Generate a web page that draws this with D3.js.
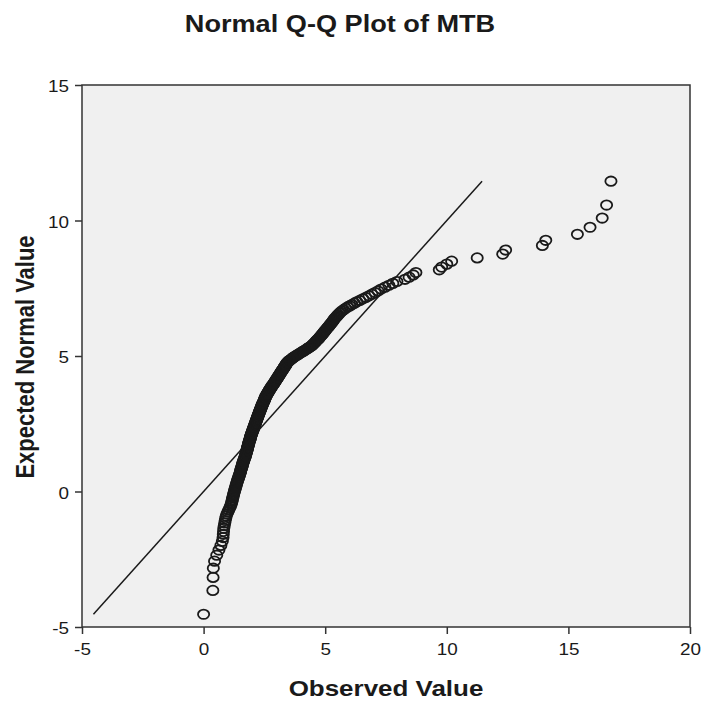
<!DOCTYPE html>
<html>
<head>
<meta charset="utf-8">
<script src="https://cdn.jsdelivr.net/npm/d3@7"></script>
<style>
  html, body { margin: 0; padding: 0; background: #fff; }
  svg { display: block; }
  text { font-family: "Liberation Sans", Arial, sans-serif; fill: #1a1a1a; }
</style>
</head>
<body>
<svg id="chart" width="703" height="702"></svg>
<script>
// Labels and tick values
const chartTitle = "Normal Q-Q Plot of MTB";
const xLabel = "Observed Value";
const yLabel = "Expected Normal Value";
const xTicks = [-5, 0, 5, 10, 15, 20];
const yTicks = [-5, 0, 5, 10, 15];

// Sorted observed MTB values (300 cases)
const observed = [
  0.00, 0.38, 0.39, 0.40, 0.45, 0.54, 0.63, 0.71, 0.77, 0.80, 0.81, 0.82, 0.83, 0.85, 0.87, 0.89, 0.91, 0.93,
  0.96, 1.00, 1.03, 1.07, 1.10, 1.13, 1.15, 1.17, 1.18, 1.20,
  1.21, 1.23, 1.24, 1.26, 1.27, 1.29, 1.30, 1.32, 1.33, 1.35,
  1.36, 1.38, 1.39, 1.41, 1.42, 1.44, 1.45, 1.47, 1.48, 1.50,
  1.51, 1.52, 1.53, 1.54, 1.55, 1.57, 1.58, 1.59, 1.60, 1.61,
  1.62, 1.64, 1.65, 1.66, 1.67, 1.69, 1.70, 1.71, 1.72, 1.73,
  1.74, 1.75, 1.76, 1.77, 1.78, 1.79, 1.80, 1.80, 1.81, 1.82,
  1.83, 1.84, 1.85, 1.85, 1.86, 1.87, 1.88, 1.89, 1.90, 1.91,
  1.92, 1.92, 1.93, 1.94, 1.95, 1.96, 1.97, 1.98, 1.99, 2.00,
  2.01, 2.02, 2.03, 2.04, 2.05, 2.06, 2.07, 2.08, 2.09, 2.10,
  2.11, 2.12, 2.13, 2.14, 2.15, 2.16, 2.17, 2.18, 2.19, 2.20,
  2.21, 2.22, 2.23, 2.24, 2.25, 2.26, 2.27, 2.28, 2.29, 2.30,
  2.31, 2.32, 2.33, 2.34, 2.35, 2.36, 2.37, 2.38, 2.39, 2.40,
  2.41, 2.42, 2.43, 2.44, 2.45, 2.47, 2.48, 2.49, 2.50, 2.51,
  2.52, 2.53, 2.54,
  2.55, 2.56, 2.58, 2.60, 2.61, 2.62, 2.64, 2.66, 2.67, 2.69,
  2.70, 2.71, 2.73, 2.75, 2.76, 2.78, 2.80, 2.81, 2.83, 2.85,
  2.87, 2.89, 2.91, 2.92, 2.94, 2.96, 2.98, 2.99, 3.01, 3.03,
  3.05, 3.06, 3.08, 3.10, 3.12, 3.13, 3.15, 3.17, 3.19, 3.20,
  3.22, 3.24, 3.26, 3.28, 3.30, 3.31, 3.33, 3.35, 3.37, 3.38,
  3.40, 3.42, 3.44, 3.46, 3.49, 3.52, 3.56, 3.60, 3.64, 3.68,
  3.72, 3.76, 3.81, 3.86, 3.91, 3.96, 4.01, 4.06, 4.11, 4.16,
  4.21, 4.26, 4.31, 4.35, 4.40, 4.44, 4.48, 4.51, 4.55, 4.59,
  4.62, 4.65, 4.68, 4.72, 4.75, 4.78, 4.81, 4.84, 4.87, 4.90,
  4.93, 4.96, 4.99, 5.02, 5.05, 5.09, 5.12, 5.16, 5.19, 5.22,
  5.25, 5.29, 5.32, 5.35, 5.38, 5.42, 5.46, 5.50, 5.54, 5.59,
  5.64, 5.70, 5.76, 5.84, 5.92, 6.01, 6.10, 6.20, 6.30, 6.42,
  6.55, 6.67, 6.80, 6.92, 7.05, 7.17, 7.30, 7.46, 7.62, 7.78,
  7.95,
  8.28, 8.45, 8.62, 8.73, 9.69, 9.79, 10.00, 10.20, 11.25, 12.30, 12.42, 13.93, 14.07, 15.37, 15.89, 16.39, 16.57, 16.75
];

// Expected normal value for each ranked case
const expected = [
  -4.53, -3.65, -3.17, -2.83, -2.57, -2.35, -2.16, -1.99, -1.84, -1.70, -1.58, -1.47, -1.36, -1.26, -1.16, -1.07, -0.99, -0.91,
  -0.83, -0.76, -0.69, -0.62, -0.55, -0.48, -0.42, -0.36, -0.30, -0.24,
  -0.19, -0.13, -0.08, -0.03, 0.02, 0.07, 0.11, 0.16, 0.21, 0.25,
  0.30, 0.34, 0.39, 0.43, 0.47, 0.51, 0.55, 0.59, 0.63, 0.67,
  0.71, 0.74, 0.78, 0.82, 0.85, 0.89, 0.93, 0.96, 1.00, 1.03,
  1.06, 1.10, 1.13, 1.16, 1.19, 1.23, 1.26, 1.29, 1.32, 1.35,
  1.38, 1.41, 1.45, 1.48, 1.51, 1.54, 1.57, 1.60, 1.62, 1.65,
  1.68, 1.71, 1.74, 1.76, 1.79, 1.82, 1.85, 1.88, 1.90, 1.93,
  1.96, 1.98, 2.01, 2.04, 2.07, 2.09, 2.12, 2.14, 2.17, 2.19,
  2.22, 2.24, 2.27, 2.29, 2.32, 2.34, 2.37, 2.39, 2.42, 2.44,
  2.47, 2.49, 2.52, 2.54, 2.57, 2.59, 2.62, 2.64, 2.67, 2.69,
  2.72, 2.74, 2.77, 2.79, 2.81, 2.84, 2.86, 2.89, 2.91, 2.94,
  2.96, 2.98, 3.01, 3.03, 3.05, 3.08, 3.10, 3.12, 3.15, 3.17,
  3.19, 3.21, 3.24, 3.26, 3.28, 3.31, 3.33, 3.35, 3.38, 3.40,
  3.43, 3.45, 3.47,
  3.49, 3.52, 3.54, 3.57, 3.59, 3.61, 3.64, 3.66, 3.68, 3.71,
  3.73, 3.75, 3.77, 3.80, 3.82, 3.84, 3.87, 3.89, 3.91, 3.94,
  3.96, 3.98, 4.01, 4.03, 4.06, 4.08, 4.11, 4.13, 4.15, 4.18,
  4.20, 4.23, 4.25, 4.28, 4.30, 4.33, 4.35, 4.38, 4.40, 4.43,
  4.45, 4.48, 4.50, 4.53, 4.55, 4.58, 4.60, 4.63, 4.65, 4.68,
  4.70, 4.73, 4.75, 4.78, 4.80, 4.83, 4.85, 4.88, 4.91, 4.94,
  4.96, 4.99, 5.02, 5.04, 5.07, 5.10, 5.13, 5.16, 5.18, 5.21,
  5.24, 5.27, 5.30, 5.32, 5.35, 5.38, 5.41, 5.44, 5.47, 5.51,
  5.54, 5.57, 5.60, 5.63, 5.66, 5.69, 5.73, 5.76, 5.79, 5.82,
  5.86, 5.89, 5.92, 5.96, 5.99, 6.03, 6.07, 6.10, 6.14, 6.18,
  6.21, 6.25, 6.29, 6.33, 6.37, 6.41, 6.45, 6.49, 6.53, 6.58,
  6.62, 6.67, 6.71, 6.76, 6.81, 6.85, 6.90, 6.95, 7.00, 7.05,
  7.11, 7.16, 7.22, 7.28, 7.34, 7.40, 7.47, 7.54, 7.61, 7.68,
  7.75,
  7.83, 7.91, 7.99, 8.08, 8.18, 8.28, 8.39, 8.50, 8.62, 8.76, 8.91, 9.08, 9.27, 9.49, 9.75, 10.09, 10.57, 11.45
];

// Layout
const frame = { left: 82, right: 690, top: 85, bottom: 627 };
const stretch = 1.18; // glyphs and markers are drawn slightly wide

const svg = d3.select("#chart");

const x = d3.scaleLinear().domain([xTicks[0], xTicks[xTicks.length - 1]]).range([frame.left, frame.right]);
const y = d3.scaleLinear().domain([yTicks[0], yTicks[yTicks.length - 1]]).range([frame.bottom, frame.top]);

// Plot background
svg.append("rect")
  .attr("x", frame.left).attr("y", frame.top)
  .attr("width", frame.right - frame.left).attr("height", frame.bottom - frame.top)
  .attr("fill", "#f0f0f0");

// Points: hollow markers
const points = observed.map((o, i) => ({ o, e: expected[i] }));
svg.append("g")
  .selectAll("ellipse")
  .data(points)
  .join("ellipse")
  .attr("cx", d => x(d.o))
  .attr("cy", d => y(d.e))
  .attr("rx", 5.6)
  .attr("ry", 4.7)
  .attr("fill", "none")
  .attr("stroke", "#1a1a1a")
  .attr("stroke-width", 1.8);

// Reference line y = x across the range of expected values
const [lo, hi] = d3.extent(expected);
svg.append("line")
  .attr("x1", x(lo)).attr("y1", y(lo))
  .attr("x2", x(hi)).attr("y2", y(hi))
  .attr("stroke", "#1a1a1a")
  .attr("stroke-width", 1.5);

// Frame
svg.append("rect")
  .attr("x", frame.left).attr("y", frame.top)
  .attr("width", frame.right - frame.left).attr("height", frame.bottom - frame.top)
  .attr("fill", "none")
  .attr("stroke", "#333")
  .attr("stroke-width", 1.5);

// X axis
const gx = svg.append("g")
  .attr("transform", `translate(0,${frame.bottom})`)
  .call(d3.axisBottom(x).tickValues(xTicks).tickSize(7).tickSizeOuter(0).tickPadding(10).tickFormat(d => String(d)));
gx.select(".domain").remove();
gx.selectAll(".tick line").attr("stroke", "#333").attr("stroke-width", 1.5);
gx.selectAll(".tick text")
  .attr("font-size", 16)
  .attr("font-family", "'Liberation Sans', Arial, sans-serif")
  .attr("fill", "#1a1a1a")
  .attr("transform", `scale(${stretch},1)`);

// Y axis
const gy = svg.append("g")
  .attr("transform", `translate(${frame.left},0)`)
  .call(d3.axisLeft(y).tickValues(yTicks).tickSize(7).tickSizeOuter(0).tickFormat(d => String(d)));
gy.select(".domain").remove();
gy.selectAll(".tick line").attr("stroke", "#333").attr("stroke-width", 1.5);
gy.selectAll(".tick text")
  .attr("x", -13 / stretch)
  .attr("dy", "0.42em")
  .attr("font-size", 16)
  .attr("font-family", "'Liberation Sans', Arial, sans-serif")
  .attr("fill", "#1a1a1a")
  .attr("transform", `scale(${stretch},1)`);

// Titles
svg.append("text")
  .attr("transform", `translate(340,31.5) scale(${stretch},1)`)
  .attr("text-anchor", "middle")
  .attr("font-size", 23)
  .attr("font-weight", "bold")
  .text(chartTitle);

svg.append("text")
  .attr("transform", `translate(386,696) scale(${stretch},1)`)
  .attr("text-anchor", "middle")
  .attr("font-size", 22)
  .attr("font-weight", "bold")
  .text(xLabel);

svg.append("text")
  .attr("transform", `translate(34,357) scale(${stretch},1) rotate(-90)`)
  .attr("text-anchor", "middle")
  .attr("font-size", 22)
  .attr("font-weight", "bold")
  .text(yLabel);
</script>
</body>
</html>
